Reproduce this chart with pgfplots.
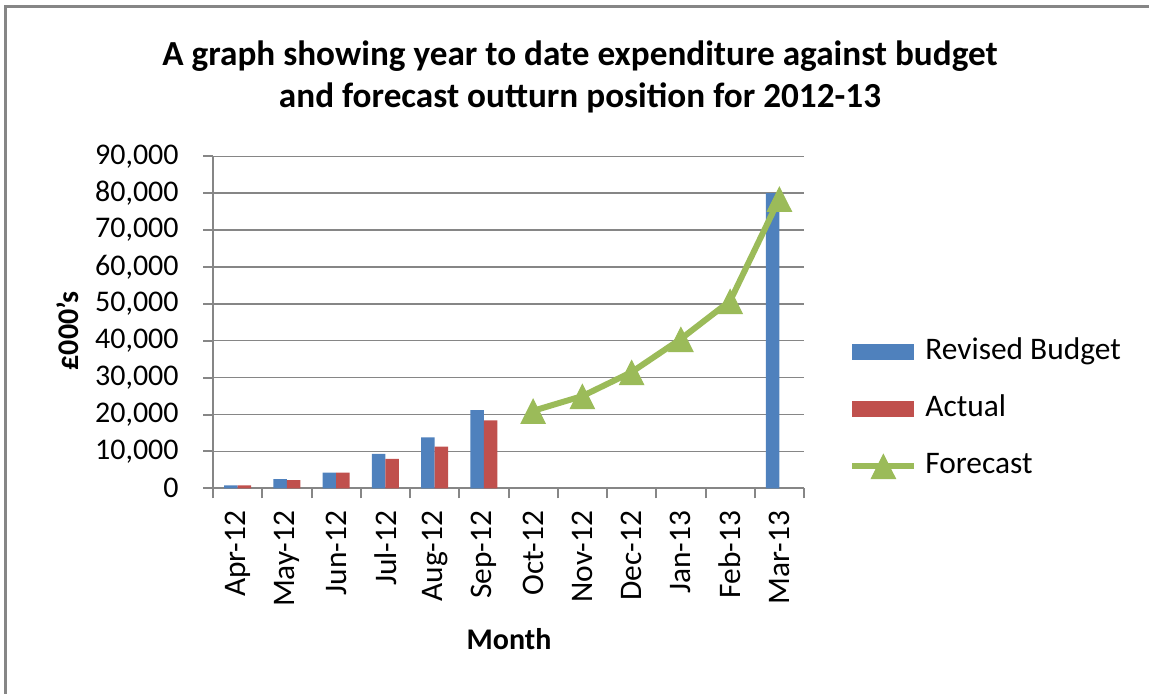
\documentclass[border=0pt]{standalone}
\usepackage{fontspec}
\setmainfont{Carlito}
\usepackage{pgfplots}
\pgfplotsset{compat=1.18}
\definecolor{cblue}{HTML}{4F81BD}
\definecolor{cred}{HTML}{C0504D}
\definecolor{cgreen}{HTML}{9BBB59}
\definecolor{cgray}{HTML}{868686}
\pgfplotsset{
  barleg/.style={legend image code/.code={\fill[##1] (0pt,-4pt) rectangle (31pt,4pt);}},
  lineleg/.style={legend image code/.code={\draw[##1, mark repeat=2, mark phase=2] plot coordinates {(0pt,0pt) (15.5pt,0pt) (31pt,0pt)};}},
}
\begin{document}
\begin{tikzpicture}
\useasboundingbox (0,0) rectangle (574.5pt,347pt);
\draw[cgray, line width=1.5pt] (2.75pt,-2pt) -- (2.75pt,343.75pt) -- (576pt,343.75pt);
\node[font=\fontsize{17.6}{21}\selectfont\bfseries, align=center] at (290pt,308.5pt) {A graph showing year to date expenditure against budget\\and forecast outturn position for 2012-13};
\begin{axis}[
  at={(106.5pt,102.85pt)}, anchor=south west,
  scale only axis, width=295.5pt, height=166pt,
  xmin=-0.5, xmax=11.5, ymin=0, ymax=90000,
  ybar=0pt, bar width=6.75pt,
  xtick={0,...,11},
  xticklabels={Apr-12,May-12,Jun-12,Jul-12,Aug-12,Sep-12,Oct-12,Nov-12,Dec-12,Jan-13,Feb-13,Mar-13},
  major x tick style={draw=none},
  minor xtick={-0.5,0.5,...,11.5},
  ytick={0,10000,...,90000},
  ymajorgrids, grid style={cgray, line width=0.75pt},
  axis lines*=left,
  axis line style={cgray, line width=1pt},
  tick style={cgray, line width=1pt},
  major tick length=5pt, minor tick length=5pt,
  tick align=outside,
  scaled y ticks=false,
  /pgf/number format/assume math mode=true,
  yticklabel style={font=\fontsize{15}{18}\selectfont, inner sep=0pt, xshift=-12pt, /pgf/number format/.cd, fixed, 1000 sep={,}},
  xticklabel style={font=\fontsize{15.7}{18}\selectfont, rotate=90, anchor=east, inner sep=0pt, xshift=-6pt},
  legend style={at={(1.0761,0.2389)}, anchor=west, draw=none, fill=none, inner sep=0pt,
    column sep=4pt, row sep=14.5pt,
    nodes={inner sep=0pt, text height=11pt, text depth=3pt, font=\fontsize{15.7}{18}\selectfont}},
  legend cell align=left,
]
\addplot[fill=cblue, draw=none, barleg]
  coordinates {(0,800) (1,2500) (2,4250) (3,9300) (4,13800) (5,21200) (11,80000)};
\addlegendentry{Revised Budget}
\addplot[fill=cred, draw=none, barleg]
  coordinates {(0,800) (1,2200) (2,4250) (3,8000) (4,11300) (5,18400)};
\addlegendentry{Actual}
\addplot[sharp plot, cgreen, line width=3pt, mark=triangle*, mark size=7pt,
  mark options={solid, line width=0.5pt, yscale=1.15, yshift=-2pt}, lineleg]
  coordinates {(6,21000) (7,25000) (8,31500) (9,40500) (10,50800) (11,78500)};
\addlegendentry{Forecast}
\end{axis}
\node[rotate=90, font=\fontsize{15}{18}\selectfont\bfseries] at (34pt,181.5pt) {£000's};
\node[font=\fontsize{15}{18}\selectfont\bfseries] at (254.5pt,27.5pt) {Month};
\end{tikzpicture}
\end{document}
